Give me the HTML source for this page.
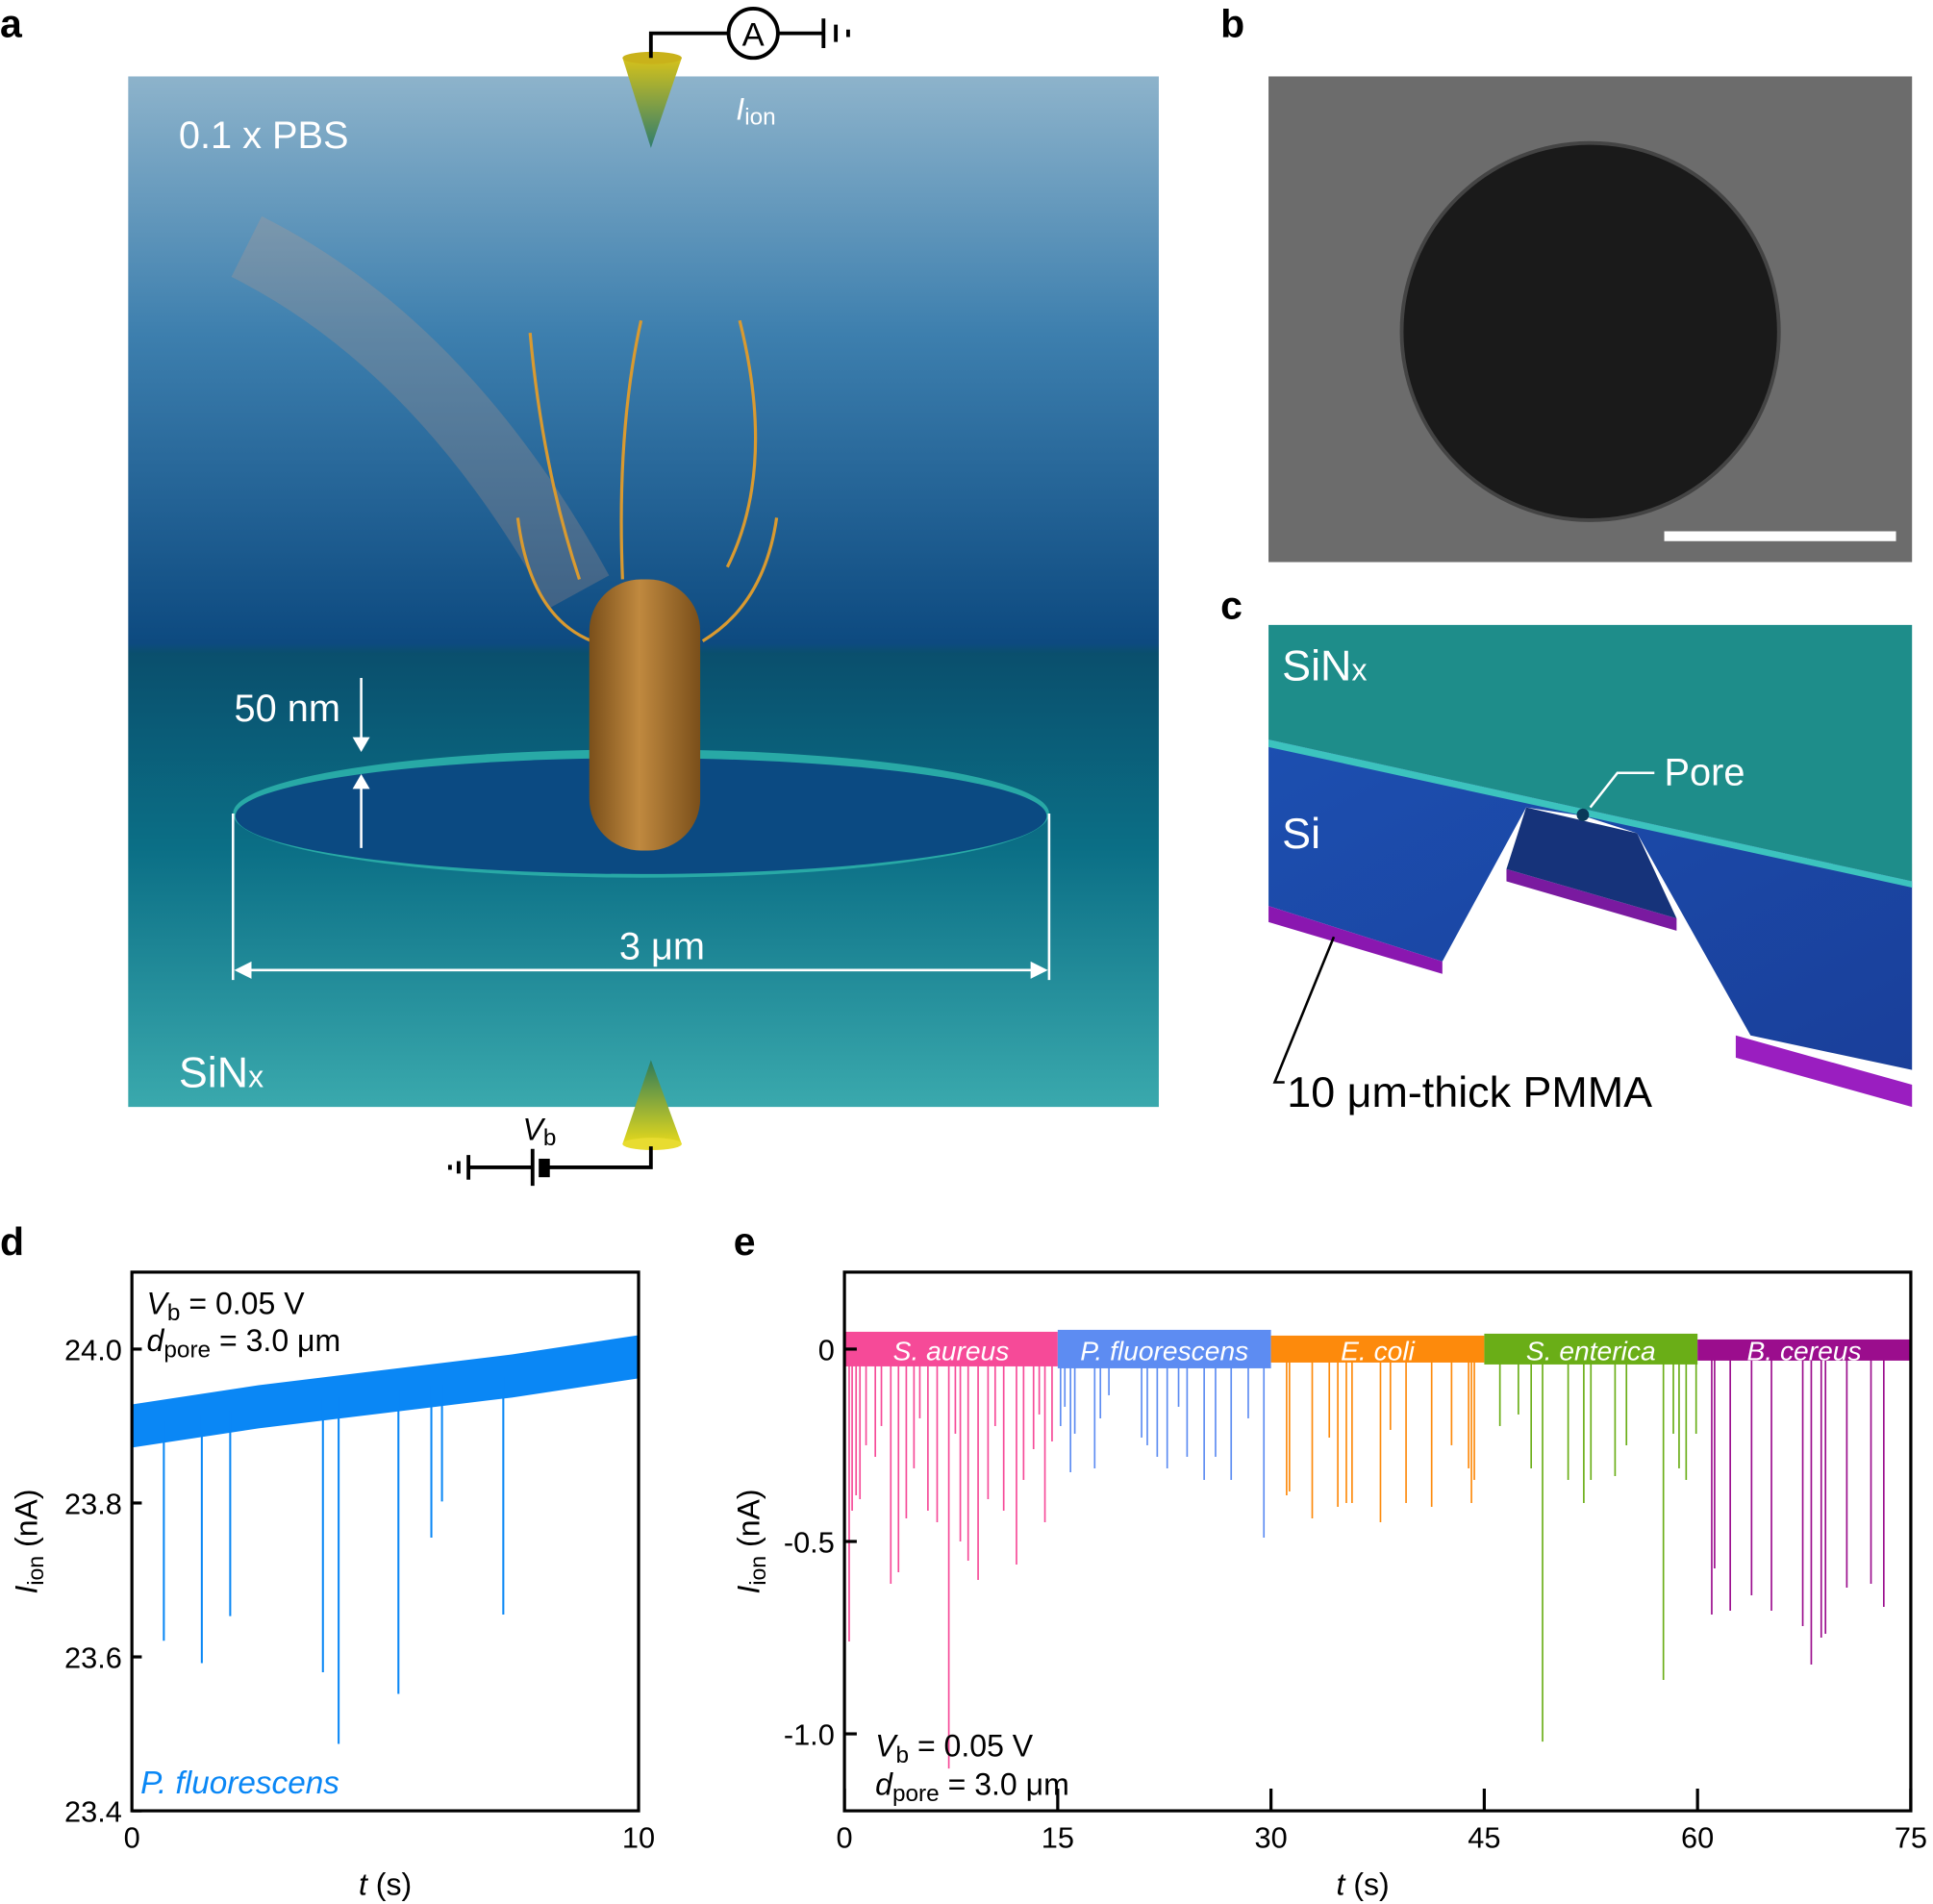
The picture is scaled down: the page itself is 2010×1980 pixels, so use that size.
<!DOCTYPE html>
<html><head><meta charset="utf-8"><style>
html,body{margin:0;padding:0;background:#fff}
svg{display:block}
text{font-family:"Liberation Sans",Arial,sans-serif}
</style></head><body>
<svg id="fig" width="2010" height="1980" viewBox="0 0 1568 1544.6" xmlns="http://www.w3.org/2000/svg">
<defs>
<linearGradient id="gA" x1="0" y1="0" x2="0" y2="1">
<stop offset="0" stop-color="#8db3cb"/><stop offset="0.25" stop-color="#3d7fae"/><stop offset="0.55" stop-color="#0d4a80"/><stop offset="0.56" stop-color="#0a4f6d"/><stop offset="0.75" stop-color="#0b6f86"/><stop offset="1" stop-color="#3aa9ad"/>
</linearGradient>
<linearGradient id="gBac" x1="0" y1="0" x2="1" y2="0"><stop offset="0" stop-color="#7a4f1a"/><stop offset="0.45" stop-color="#c0893f"/><stop offset="1" stop-color="#7a4f1a"/></linearGradient>
<linearGradient id="gCone" x1="0" y1="0" x2="0" y2="1"><stop offset="0" stop-color="#d6c21a"/><stop offset="1" stop-color="#2f7d6e"/></linearGradient>
<linearGradient id="gCone2" x1="0" y1="1" x2="0" y2="0"><stop offset="0" stop-color="#e4d81c"/><stop offset="1" stop-color="#2c7a5a"/></linearGradient>
<linearGradient id="gSi" x1="0" y1="0" x2="1" y2="1"><stop offset="0" stop-color="#1c4fb0"/><stop offset="1" stop-color="#1a3f9a"/></linearGradient>
</defs>

<text x="0" y="30" font-size="32" font-weight="bold">a</text>
<text x="990" y="30" font-size="32" font-weight="bold">b</text>
<text x="990" y="502" font-size="32" font-weight="bold">c</text>
<text x="0" y="1018" font-size="32" font-weight="bold">d</text>
<text x="595" y="1018" font-size="32" font-weight="bold">e</text>

<g>
<rect x="104" y="62" width="836" height="836" fill="url(#gA)"/>
<path d="M200 200 Q360 280 470 480" stroke="#c79a86" stroke-width="55" fill="none" opacity="0.25"/>
<ellipse cx="520" cy="660" rx="331" ry="52" fill="#28a9a6"/>
<ellipse cx="520" cy="662" rx="329" ry="47" fill="#0b4a82"/>
<path d="M470 470 Q440 380 430 270 M590 460 Q630 380 600 260 M480 520 Q430 500 420 420 M570 520 Q620 490 630 420 M505 470 Q500 350 520 260" stroke="#d99a30" stroke-width="2.5" fill="none"/>
<rect x="478" y="470" width="90" height="220" rx="42" fill="url(#gBac)"/>
<text x="145" y="120" font-size="31" fill="#fff">0.1 x PBS</text>
<text x="145" y="882" font-size="35" fill="#fff">SiN<tspan font-size="25">x</tspan></text>
<text x="190" y="585" font-size="31" fill="#fff">50 nm</text>
<path d="M293 550 V605 M293 633 V688" stroke="#fff" stroke-width="2"/>
<path d="M286 598 L293 610 L300 598Z M286 640 L293 628 L300 640Z" fill="#fff"/>
<path d="M189 660 V795 M851 660 V795 M192 787 H848" stroke="#fff" stroke-width="2"/>
<path d="M190 787 L204 780 L204 794Z M850 787 L836 780 L836 794Z" fill="#fff"/>
<text x="537" y="778" font-size="31" fill="#fff" text-anchor="middle">3 μm</text>
</g>
<g>
<path d="M505 47 L553 47 L528 120Z" fill="url(#gCone)"/>
<ellipse cx="529" cy="47" rx="24" ry="5" fill="#c9b21a"/>
<path d="M528 47 V27 H591 M631 27 H668 M668 15 V39 M678 20 V34 M688 24 V30" stroke="#000" stroke-width="3" fill="none"/>
<circle cx="611" cy="27" r="20" fill="#fff" stroke="#000" stroke-width="3"/>
<text x="611" y="37" font-size="27" text-anchor="middle">A</text>
<text x="597" y="97" font-size="25" fill="#fff" font-style="italic">I<tspan font-style="normal" font-size="19" dy="4">ion</tspan></text>
<path d="M505 928 L553 928 L528 860Z" fill="url(#gCone2)"/>
<ellipse cx="529" cy="928" rx="24" ry="5" fill="#e8dc30"/>
<path d="M528 930 V947 H445 M432 947 H380 M380 937 V957 M372 942 V952 M365 945 V949 M432 932 V962" stroke="#000" stroke-width="3" fill="none"/>
<rect x="437" y="940" width="9" height="15" fill="#000"/>
<text x="424" y="925" font-size="25" font-style="italic">V<tspan font-style="normal" font-size="19" dy="4">b</tspan></text>
</g>

<g>
<rect x="1029" y="62" width="522" height="394" fill="#6c6c6c"/>
<circle cx="1290" cy="269" r="153" fill="#1a1a1a" stroke="#444" stroke-width="3"/>
<rect x="1350" y="431" width="188" height="8" fill="#fff"/>
</g>

<g>
<rect x="1029" y="507" width="522" height="391" fill="#fff"/>
<polygon points="1029,507 1551,507 1551,715 1029,600" fill="#1e8d8a"/>
<polygon points="1029,600 1551,715 1551,868 1420,840 1328,676 1285,662 1238,655 1170,780 1029,735" fill="url(#gSi)"/>
<polygon points="1029,600 1551,715 1551,720 1029,606" fill="#3cc3be"/>
<polygon points="1029,735 1170,780 1170,790 1029,748" fill="#8a17b0"/>
<polygon points="1222,705 1360,745 1360,755 1222,715" fill="#7a1aa0"/>
<polygon points="1408,840 1551,880 1551,898 1408,858" fill="#9a1ec0"/>
<path d="M1238 655 L1222 705 L1360 745 L1328 676Z" fill="#16337a"/>
<text x="1040" y="552" font-size="35" fill="#fff">SiN<tspan font-size="25">x</tspan></text>
<text x="1040" y="688" font-size="35" fill="#fff">Si</text>
<circle cx="1284" cy="661" r="5" fill="#0a3a5a"/>
<path d="M1290 655 L1312 627 H1342" stroke="#fff" stroke-width="2" fill="none"/>
<text x="1350" y="637" font-size="31" fill="#fff">Pore</text>
<path d="M1082 760 L1034 878 H1042" stroke="#000" stroke-width="2" fill="none"/>
<text x="1044" y="898" font-size="35">10 μm-thick PMMA</text>
</g>

<g id="chartD"></g>
<g id="chartE"></g>
</svg>
<script>
const dBaseT = [0, 2.5, 5, 7.5, 10];
const dBaseI = [23.90, 23.925, 23.945, 23.965, 23.99];
const dNoise = 0.028;
const dSpikeT = [0.63, 1.38, 1.94, 3.77, 4.08, 5.26, 5.91, 6.12, 7.33];
const dSpikeI = [23.621, 23.592, 23.653, 23.58, 23.487, 23.552, 23.755, 23.802, 23.655];
const dYTicks = [23.4, 23.6, 23.8, 24.0];
const dYLabels = ["23.4", "23.6", "23.8", "24.0"];
const dXTicks = [0, 10];
const dXLabels = ["0", "10"];

const eSpecies = ["S. aureus", "P. fluorescens", "E. coli", "S. enterica", "B. cereus"];
const eColors = ["#f64a98", "#5d8cf2", "#fd8a0c", "#6aae17", "#9b0d8d"];
const eStart = [0, 15, 30, 45, 60];
const eEnd = [15, 30, 45, 60, 75];
const eBandTop = [0.045, 0.05, 0.035, 0.04, 0.025];
const eBandBot = [-0.045, -0.05, -0.035, -0.04, -0.03];
const eSpikeT = [
 [0.33,0.54,0.82,1.09,1.52,2.17,2.6,3.26,3.8,4.35,4.89,5.3,5.87,6.52,7.34,7.8,8.15,8.7,9.4,10.1,10.6,11.2,12.1,12.6,13.3,13.7,14.1,14.6],
 [15.2,15.5,15.9,16.2,17.6,18.0,18.6,20.9,21.3,22.0,22.7,23.5,24.1,25.3,26.1,27.2,28.4,29.5],
 [31.1,31.3,32.9,34.1,34.7,35.3,35.7,37.7,38.4,39.5,41.3,42.7,43.9,44.1,44.3],
 [46.1,47.4,48.3,49.1,50.9,52.0,52.5,54.2,55.0,57.6,58.3,58.7,59.2,59.9],
 [61.0,61.2,62.3,63.8,65.2,67.4,68.0,68.7,69.0,70.5,72.2,73.1]
];
const eSpikeI = [
 [-0.76,-0.42,-0.38,-0.39,-0.25,-0.28,-0.2,-0.61,-0.58,-0.44,-0.31,-0.18,-0.42,-0.45,-1.09,-0.22,-0.5,-0.55,-0.60,-0.39,-0.2,-0.42,-0.56,-0.34,-0.26,-0.17,-0.45,-0.24],
 [-0.2,-0.15,-0.32,-0.22,-0.31,-0.18,-0.12,-0.23,-0.25,-0.28,-0.31,-0.15,-0.28,-0.34,-0.28,-0.34,-0.18,-0.49],
 [-0.38,-0.37,-0.44,-0.23,-0.41,-0.40,-0.40,-0.45,-0.21,-0.40,-0.41,-0.25,-0.31,-0.40,-0.34],
 [-0.2,-0.17,-0.31,-1.02,-0.34,-0.40,-0.34,-0.33,-0.25,-0.86,-0.22,-0.31,-0.34,-0.22],
 [-0.69,-0.57,-0.68,-0.64,-0.68,-0.72,-0.82,-0.75,-0.74,-0.62,-0.61,-0.67]
];
const eYTicks = [-1.0, -0.5, 0];
const eYLabels = ["-1.0", "-0.5", "0"];
const eXTicks = [0, 15, 30, 45, 60, 75];
const eXLabels = ["0", "15", "30", "45", "60", "75"];

const NS = "http://www.w3.org/2000/svg";
function mk(parent, tag, attrs, txt) {
  const el = document.createElementNS(NS, tag);
  for (const k in attrs) el.setAttribute(k, attrs[k]);
  if (txt !== undefined) el.textContent = txt;
  parent.appendChild(el);
  return el;
}

(function () {
  const g = document.getElementById('chartD');
  const L = 107, R = 518, T = 1032, B = 1469;
  const x = t => L + (t - 0) / 10 * (R - L);
  const y = v => B - (v - 23.4) / 0.7 * (B - T);
  const base = t => {
    for (let i = 0; i < dBaseT.length - 1; i++) if (t <= dBaseT[i + 1]) {
      const f = (t - dBaseT[i]) / (dBaseT[i + 1] - dBaseT[i]);
      return dBaseI[i] + f * (dBaseI[i + 1] - dBaseI[i]);
    }
    return dBaseI[dBaseI.length - 1];
  };
  let top = "", bot = "";
  dBaseT.forEach((t, i) => { top += (i ? "L" : "M") + x(t) + " " + y(dBaseI[i] + dNoise) + " "; });
  for (let i = dBaseT.length - 1; i >= 0; i--) bot += "L" + x(dBaseT[i]) + " " + y(dBaseI[i] - dNoise) + " ";
  const band = mk(g, 'path', { d: top + bot + "Z", fill: "#0a87f5" });
  
  
  dSpikeT.forEach((t, i) => {
    const s = mk(g, 'line', { x1: x(t), x2: x(t), y1: y(base(t)), y2: y(dSpikeI[i]), stroke: "#0a87f5", "stroke-width": 1.6 });
    
    
  });
  const frame = mk(g, 'rect', { x: L, y: T, width: R - L, height: B - T, fill: "none", stroke: "#000", "stroke-width": 2.5 });
  
  
  dYTicks.forEach((v, i) => {
    mk(g, 'line', { x1: L, x2: L + 8, y1: y(v), y2: y(v), stroke: "#000", "stroke-width": 2.5 });
    const tl = mk(g, 'text', { x: L - 8, y: y(v) + 9, "font-size": 24, "text-anchor": "end" }, dYLabels[i]);
    
    
  });
  dXTicks.forEach((v, i) => {
    const tl = mk(g, 'text', { x: x(v), y: B + 30, "font-size": 24, "text-anchor": "middle" }, dXLabels[i]);
    
    
  });
  const xt = mk(g, 'text', { x: (L + R) / 2, y: B + 68, "font-size": 25, "text-anchor": "middle" });
  xt.innerHTML = '<tspan font-style="italic">t</tspan> (s)';
  
  
  const yt = mk(g, 'text', { transform: "translate(30," + ((T + B) / 2) + ") rotate(-90)", "font-size": 25, "text-anchor": "middle" });
  yt.innerHTML = '<tspan font-style="italic">I</tspan><tspan font-size="18" dy="5">ion</tspan><tspan dy="-5"> (nA)</tspan>';
  
  
  const a1 = mk(g, 'text', { x: L + 12, y: T + 34, "font-size": 25 });
  a1.innerHTML = '<tspan font-style="italic">V</tspan><tspan font-size="19" dy="5">b</tspan><tspan dy="-5"> = 0.05 V</tspan>';
  
  
  const a2 = mk(g, 'text', { x: L + 12, y: T + 64, "font-size": 25 });
  a2.innerHTML = '<tspan font-style="italic">d</tspan><tspan font-size="19" dy="5">pore</tspan><tspan dy="-5"> = 3.0 μm</tspan>';
  
  
  const sp = mk(g, 'text', { x: L + 7, y: B - 14, "font-size": 26, "font-style": "italic", fill: "#0a87f5" }, "P. fluorescens");
  
  
})();

(function () {
  const g = document.getElementById('chartE');
  const L = 685, R = 1550, T = 1032, B = 1469;
  const x = t => L + t / 75 * (R - L);
  const y = v => B - (v + 1.2) / 1.4 * (B - T);
  eSpecies.forEach((name, k) => {
    const c = eColors[k];
    eSpikeT[k].forEach((t, i) => {
      const s = mk(g, 'line', { x1: x(t), x2: x(t), y1: y(0), y2: y(eSpikeI[k][i]), stroke: c, "stroke-width": 1.3 });
      
      
    });
    const b = mk(g, 'rect', { x: x(eStart[k]), y: y(eBandTop[k]), width: x(eEnd[k]) - x(eStart[k]), height: y(eBandBot[k]) - y(eBandTop[k]), fill: c });
    
    
    const lb = mk(g, 'text', { x: (x(eStart[k]) + x(eEnd[k])) / 2, y: y(0) + 9, "font-size": 22, "font-style": "italic", fill: "#fff", "text-anchor": "middle" }, name);
    
    
  });
  const frame = mk(g, 'rect', { x: L, y: T, width: R - L, height: B - T, fill: "none", stroke: "#000", "stroke-width": 2.5 });
  
  
  eYTicks.forEach((v, i) => {
    mk(g, 'line', { x1: L, x2: L + 10, y1: y(v), y2: y(v), stroke: "#000", "stroke-width": 2.5 });
    const tl = mk(g, 'text', { x: L - 8, y: y(v) + 9, "font-size": 24, "text-anchor": "end" }, eYLabels[i]);
    
    
  });
  eXTicks.forEach((v, i) => {
    mk(g, 'line', { x1: x(v), x2: x(v), y1: B, y2: B - 18, stroke: "#000", "stroke-width": 2.5 });
    const tl = mk(g, 'text', { x: x(v), y: B + 30, "font-size": 24, "text-anchor": "middle" }, eXLabels[i]);
    
    
  });
  const xt = mk(g, 'text', { x: (L + R) / 2 - 12, y: B + 68, "font-size": 25, "text-anchor": "middle" });
  xt.innerHTML = '<tspan font-style="italic">t</tspan> (s)';
  
  
  const yt = mk(g, 'text', { transform: "translate(616," + ((T + B) / 2) + ") rotate(-90)", "font-size": 25, "text-anchor": "middle" });
  yt.innerHTML = '<tspan font-style="italic">I</tspan><tspan font-size="18" dy="5">ion</tspan><tspan dy="-5"> (nA)</tspan>';
  
  
  const a1 = mk(g, 'text', { x: L + 25, y: B - 44, "font-size": 25 });
  a1.innerHTML = '<tspan font-style="italic">V</tspan><tspan font-size="19" dy="5">b</tspan><tspan dy="-5"> = 0.05 V</tspan>';
  
  
  const a2 = mk(g, 'text', { x: L + 25, y: B - 13, "font-size": 25 });
  a2.innerHTML = '<tspan font-style="italic">d</tspan><tspan font-size="19" dy="5">pore</tspan><tspan dy="-5"> = 3.0 μm</tspan>';
  
  
})();
</script>
</body></html>
